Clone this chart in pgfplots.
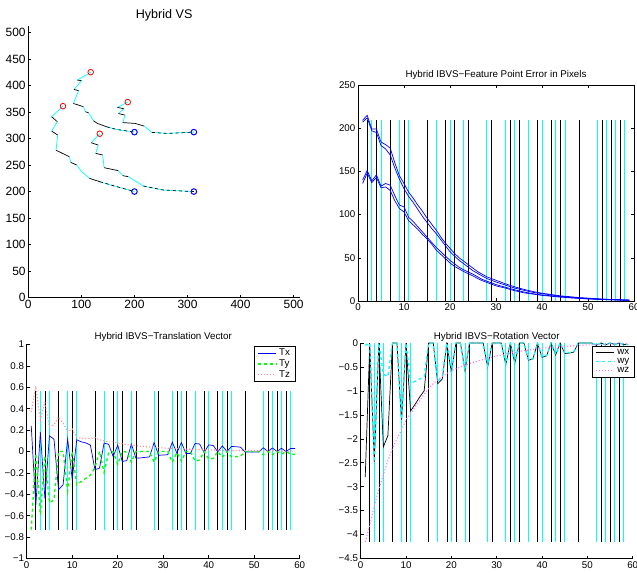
\documentclass[border=0pt]{standalone}
\usepackage{pgfplots}
\pgfplotsset{compat=1.18}
\usepackage{fontspec}
\setmainfont{Liberation Sans}
\definecolor{mcyan}{rgb}{0,1,1}
\definecolor{tzc}{rgb}{1,0.55,0.55}
\definecolor{wzc}{rgb}{1,0.45,1}
\pgfplotsset{
  every axis/.append style={scale only axis, /pgf/number format/assume math mode=true,
    tick align=inside, major tick length=3bp, axis line style={line width=0.5bp},
    every tick/.style={black,line width=0.5bp}},
  mat/.style={
    tick label style={font=\fontsize{9.8}{11}\selectfont, inner sep=2.5bp},
    title style={font=\fontsize{9.8}{11}\selectfont, yshift=-4.5bp},
    xmin=0,xmax=60, xtick={0,10,...,60},
    legend image code/.code={\draw[##1] (0bp,0bp) -- (18bp,0bp);},
    legend style={font=\fontsize{9.8}{11}\selectfont, draw=black, line width=0.6bp,
      inner xsep=2.5bp, inner ysep=0.8bp, row sep=-1.5bp, legend cell align=left, fill=white,
      nodes={inner xsep=3bp}},
  },
  vb/.style={black, line width=0.6bp, forget plot},
  vc/.style={mcyan, line width=0.8bp, forget plot},
  tc/.style={mcyan, line width=0.7bp},
  tb/.style={black, line width=0.7bp},
}
\begin{document}
\begin{tikzpicture}
\useasboundingbox (0bp,0bp) rectangle (637bp,573bp);
% ---------------- Top-left: trajectories
\begin{axis}[at={(28.3bp,275.3bp)}, anchor=south west, width=271.7bp, height=271.7bp,
  xmin=0, xmax=512, ymin=0, ymax=512,
  axis x line*=bottom, axis y line*=left,
  xtick={0,100,...,500}, ytick={0,50,...,500},
  tick label style={font=\fontsize{12}{14}\selectfont, inner sep=2.5bp},
  title style={font=\fontsize{12.6}{14}\selectfont, yshift=-5bp},
  title={Hybrid VS}]
% trajectory 1
\addplot[tc] coordinates {(117.6,425) (92.5,410)};
\addplot[tb] coordinates {(92.5,410) (100.6,409)};
\addplot[tc] coordinates {(100.6,409) (86.2,392.5)};
\addplot[tb] coordinates {(86.2,392.5) (95,390)};
\addplot[tc] coordinates {(95,390) (90,378.7) (85,366)};
\addplot[tb] coordinates {(85,366) (103.8,360)};
\addplot[tc] coordinates {(103.8,360) (107.6,350.4)};
\addplot[tb] coordinates {(107.6,350.4) (113.8,348.5)};
\addplot[tc] coordinates {(113.8,348.5) (122.7,333.5)};
\addplot[tb] coordinates {(122.7,333.5) (130.2,328.4) (147.8,322)};
\addplot[tc] coordinates {(147.8,322) (166.7,317) (200,312)};
\addplot[tb, dashed] coordinates {(147.8,322) (166.7,317) (200,312)};
% trajectory 2
\addplot[tc] coordinates {(65.4,361) (44,341)};
\addplot[tb] coordinates {(44,341) (54.7,331.6)};
\addplot[tc] coordinates {(54.7,331.6) (44,314)};
\addplot[tb] coordinates {(44,314) (55.4,306.5)};
\addplot[tc] coordinates {(55.4,306.5) (52.2,278)};
\addplot[tb] coordinates {(52.2,278) (77.4,265.6)};
\addplot[tc] coordinates {(77.4,265.6) (80,255)};
\addplot[tb] coordinates {(80,255) (91.2,250)};
\addplot[tc] coordinates {(91.2,250) (100.6,237.4) (115,225)};
\addplot[tb] coordinates {(115,225) (135,218.5)};
\addplot[tc] coordinates {(135,218.5) (160.4,211) (200,200)};
\addplot[tb, dashed] coordinates {(135,218.5) (160.4,211) (200,200)};
% trajectory 3
\addplot[tc] coordinates {(187.4,368.6) (168,358.6)};
\addplot[tb] coordinates {(168,358.6) (180.5,356)};
\addplot[tc] coordinates {(180.5,356) (169.8,347)};
\addplot[tb] coordinates {(169.8,347) (182.4,344)};
\addplot[tc] coordinates {(182.4,344) (178,330)};
\addplot[tb] coordinates {(178,330) (201.3,328.4) (218.3,323.4)};
\addplot[tc] coordinates {(218.3,323.4) (232.7,311.5)};
\addplot[tc] coordinates {(232.7,311.5) (261,309.6) (312,312)};
\addplot[tb, dashed] coordinates {(232.7,311.5) (261,309.6) (312,312)};
% trajectory 4
\addplot[tc] coordinates {(134.6,309) (118.3,292)};
\addplot[tb] coordinates {(118.3,292) (132,287.6)};
\addplot[tc] coordinates {(132,287.6) (127,272)};
\addplot[tb] coordinates {(127,272) (140.3,268.8)};
\addplot[tc] coordinates {(140.3,268.8) (142.8,245)};
\addplot[tb] coordinates {(142.8,245) (169.8,239.3)};
\addplot[tc] coordinates {(169.8,239.3) (178,230)};
\addplot[tb] coordinates {(178,230) (188.7,228)};
\addplot[tc] coordinates {(188.7,228) (217,210.4)};
\addplot[tc] coordinates {(217,210.4) (254.7,202.8) (312,200)};
\addplot[tb, dashed] coordinates {(217,210.4) (254.7,202.8) (312,200)};
% start / end markers
\addplot[only marks, mark=o, mark size=2.8bp, red, line width=0.8bp]
  coordinates {(117.6,425) (65.4,361) (187.4,368.6) (134.6,309)};
\addplot[only marks, mark=o, mark size=2.8bp, blue, line width=1bp]
  coordinates {(200,312) (312,312) (200,200) (312,200)};
\end{axis}
% ---------------- Top-right: feature point error
\begin{axis}[mat, at={(358bp,272bp)}, anchor=south west, width=276bp, height=216bp,
  ymin=0, ymax=250, ytick={0,50,...,250},
  title={Hybrid IBVS−Feature Point Error in Pixels}]
\pgfplotsinvokeforeach{2,4,7,10,15,19,21,24,29,33,35,39,42,44,48,53,55,57}{
  \addplot[vb] coordinates {(#1,0) (#1,210)};}
\pgfplotsinvokeforeach{3,5,9,11,17,20,23,28,32,34,37,40,43,45,52,54,56,58}{
  \addplot[vc] coordinates {(#1,0) (#1,210)};}
\addplot[blue, line width=0.7bp] coordinates {(1,209)(2,215)(3,199)(4,199)(5,184)(6,181)(7,177)(8,160)(9,145)(10,136)(11,126)(12,119)(13,111)(14,104)(15,96)(16,89)(17,82)(18,74)(19,67)(20,61)(21,55)(22,50)(23,46)(24,42)(25,38)(26,34)(27,31)(28,28)(29,26)(30,24)(32,20)(34,16.5)(36,13.5)(38,11)(40,9)(42,7.5)(44,6)(46,5)(48,4)(50,3.3)(52,2.6)(54,2)(56,1.6)(58,1.2)(59,1.1)};
\addplot[blue, line width=0.7bp] coordinates {(1,207)(2,212)(3,197)(4,195)(5,180)(6,176)(7,169)(8,154)(9,141)(10,130)(11,121)(12,114)(13,106)(14,98)(15,91)(16,84)(17,78)(18,71)(19,64)(20,57)(21,52)(22,47)(23,43)(24,39)(25,35)(26,32)(27,29)(28,26)(29,24)(30,22)(32,18.5)(34,15)(36,12.5)(38,10)(40,8.5)(42,7)(44,5.5)(46,4.5)(48,3.7)(50,3)(52,2.4)(54,1.9)(56,1.5)(58,1.1)(59,1)};
\addplot[blue, line width=0.7bp] coordinates {(1,140)(2,151)(3,139)(4,146)(5,133)(6,136)(7,134)(8,122)(9,111)(10,109)(11,97)(12,92)(13,86)(14,80)(15,74)(16,68)(17,62)(18,57)(19,52)(20,47)(21,43)(22,39)(23,36)(24,33.5)(25,31)(26,28)(27,25)(28,23)(29,21)(30,19)(32,16)(34,13)(36,10.5)(38,8.5)(40,7)(42,6)(44,5)(46,4)(48,3.2)(50,2.6)(52,2)(54,1.6)(56,1.3)(58,1)(59,0.9)};
\addplot[blue, line width=0.7bp] coordinates {(1,136)(2,148)(3,137)(4,143)(5,131)(6,132)(7,128)(8,116)(9,107)(10,103)(11,93)(12,88)(13,83)(14,77)(15,72)(16,66)(17,59)(18,54)(19,49)(20,44)(21,40)(22,37)(23,34)(24,31.5)(25,29)(26,26)(27,23.5)(28,21.5)(29,19.5)(30,17.5)(32,15)(34,12)(36,9.5)(38,8)(40,6.5)(42,5.5)(44,4.5)(46,3.7)(48,3)(50,2.4)(52,1.9)(54,1.5)(56,1.2)(58,0.9)(59,0.8)};
\end{axis}
% ---------------- Bottom-left: translation vector
\begin{axis}[mat, at={(26.7bp,14.5bp)}, anchor=south west, width=273bp, height=214bp,
  axis x line*=bottom, axis y line*=left,
  ymin=-1, ymax=1, ytick={-1,-0.8,...,1.01},
  yticklabels={−1,−0.8,−0.6,−0.4,−0.2,0,0.2,0.4,0.6,0.8,1},
  title style={yshift=-2bp},
  title={Hybrid IBVS−Translation Vector},
  legend style={at={(0.986,0.993)}, anchor=north east}]
\pgfplotsinvokeforeach{2,4,7,10,15,19,21,24,29,33,35,39,42,44,48,53,55,57}{
  \addplot[vb] coordinates {(#1,-0.735) (#1,0.565)};}
\pgfplotsinvokeforeach{3,5,9,11,17,20,23,28,32,34,37,40,43,45,52,54,56,58}{
  \addplot[vc] coordinates {(#1,-0.735) (#1,0.565)};}
\addplot[blue, line width=0.7bp] coordinates {(1,0.24)(2,-0.51)(3,0.18)(4,-0.44)(5,0.146)(6,0.115)(7,-0.357)(8,-0.31)(9,0.118)(10,-0.26)(11,0.11)(12,0.09)(13,0.08)(14,0.06)(15,-0.17)(16,-0.155)(17,0.078)(18,0.068)(19,-0.047)(20,0.06)(21,-0.093)(22,-0.085)(23,0.07)(24,-0.062)(25,-0.06)(26,-0.055)(27,-0.05)(28,0.084)(29,-0.035)(30,-0.033)(31,-0.03)(32,0.087)(33,-0.015)(34,0.084)(35,-0.02)(36,-0.018)(37,0.075)(38,0.07)(39,-0.01)(40,0.062)(41,0.056)(42,-0.003)(43,0.053)(44,0.0)(45,0.047)(46,0.045)(47,0.04)(48,-0.005)(49,-0.005)(50,-0.005)(51,-0.005)(52,0.035)(53,0.0)(54,0.033)(55,0.0)(56,0.03)(57,0.0)(58,0.028)(59,0.028)};
\addlegendentry{Tx}
\addplot[green, dashed, line width=1.3bp] coordinates {(1,-0.73)(2,-0.02)(3,-0.59)(4,-0.04)(5,-0.48)(6,-0.45)(7,0.0)(8,0.0)(9,-0.37)(10,0.0)(11,-0.31)(12,-0.28)(13,-0.25)(14,-0.22)(15,-0.15)(16,0.0)(17,-0.195)(18,-0.015)(19,0.0)(20,-0.12)(21,0.0)(22,-0.005)(23,-0.1)(24,0.0)(25,0)(26,0)(27,0)(28,-0.1)(29,0.0)(30,0)(31,0)(32,-0.1)(33,-0.01)(34,-0.09)(35,0.0)(36,0)(37,-0.09)(38,-0.08)(39,0.0)(40,-0.07)(41,-0.065)(42,0.0)(43,-0.055)(44,0.0)(45,-0.05)(46,-0.048)(47,-0.045)(48,0.0)(49,0)(50,0)(51,0)(52,-0.03)(53,0.0)(54,-0.03)(55,0.0)(56,-0.025)(57,0.0)(58,-0.025)(59,-0.025)};
\addlegendentry{Ty}
\addplot[tzc, dotted, line width=1.1bp] coordinates {(1,0.37)(2,0.61)(3,0.3)(4,0.46)(5,0.23)(6,0.25)(7,0.32)(8,0.27)(9,0.18)(10,0.21)(11,0.13)(12,0.125)(13,0.12)(14,0.12)(15,0.13)(16,0.11)(17,0.10)(18,0.09)(19,0.09)(20,0.08)(22,0.065)(24,0.055)(26,0.045)(28,0.04)(30,0.033)(35,0.022)(40,0.015)(45,0.01)(50,0.007)(55,0.005)(59,0.004)};
\addlegendentry{Tz}
\end{axis}
% ---------------- Bottom-right: rotation vector
\begin{axis}[mat, at={(360.7bp,14.5bp)}, anchor=south west, width=272bp, height=215.5bp,
  axis x line*=bottom, axis y line*=left,
  ymin=-4.5, ymax=0, ytick={-4.5,-4,...,0.01},
  yticklabels={−4.5,−4,−3.5,−3,−2.5,−2,−1.5,−1,−0.5,0},
  title style={yshift=-3.5bp},
  title={Hybrid IBVS−Rotation Vector},
  legend style={at={(1.0085,0.986)}, anchor=north east}]
\pgfplotsinvokeforeach{2,4,7,10,15,19,21,24,29,33,35,39,42,44,48,53,55,57}{
  \addplot[vb] coordinates {(#1,-4.15) (#1,0)};}
\pgfplotsinvokeforeach{3,5,9,11,17,20,23,28,32,34,37,40,43,45,52,54,56,58}{
  \addplot[vc] coordinates {(#1,-4.15) (#1,0)};}
\addplot[black, line width=0.7bp] coordinates {(1,-2.8)(2,-0.03)(3,-2.48)(4,0.0)(5,-2.17)(6,-1.93)(7,0)(8,0)(9,-1.65)(10,0)(11,-1.42)(12,-1.28)(13,-1.13)(14,-1.0)(15,0)(16,0)(17,-0.85)(18,-0.75)(19,0)(20,-0.62)(21,0)(22,0)(23,-0.58)(24,0)(25,0)(26,0)(27,0)(28,-0.5)(29,0)(30,0)(31,0)(32,-0.45)(33,0)(34,-0.42)(35,0)(36,0)(37,-0.36)(38,-0.33)(39,0)(40,-0.3)(41,-0.27)(42,0)(43,-0.25)(44,0)(45,-0.22)(46,-0.21)(47,-0.19)(48,0)(49,0)(50,0)(51,0)(52,-0.05)(53,0)(54,-0.04)(55,0)(56,-0.03)(57,0)(58,-0.03)(59,-0.03)};
\addlegendentry{wx}
\addplot[mcyan, dashed, line width=1.3bp] coordinates {(1,-0.05)(2,0)(3,-2.48)(4,0)(5,-0.65)(6,-0.7)(7,0)(8,0)(9,-1.65)(10,0)(11,-0.85)(12,-0.8)(13,-0.75)(14,-0.7)(15,0)(16,0)(17,-0.8)(18,-0.7)(19,0)(20,-0.65)(21,0)(22,0)(23,-0.57)(24,0)(25,0)(26,0)(27,0)(28,-0.48)(29,0)(30,0)(31,0)(32,-0.44)(33,0)(34,-0.41)(35,0)(36,0)(37,-0.35)(38,-0.33)(39,0)(40,-0.29)(41,-0.26)(42,0)(43,-0.24)(44,0)(45,-0.21)(46,-0.2)(47,-0.18)(48,0)(49,0)(50,0)(51,0)(52,-0.05)(53,0)(54,-0.04)(55,0)(56,-0.03)(57,0)(58,-0.03)(59,-0.03)};
\addlegendentry{wy}
\addplot[wzc, dotted, line width=1.1bp] coordinates {(1,-4.15)(2,-3.8)(3,-3.4)(4,-3.05)(5,-2.75)(6,-2.45)(7,-2.2)(8,-2.0)(9,-1.82)(10,-1.6)(11,-1.48)(12,-1.33)(13,-1.2)(14,-1.07)(15,-0.95)(16,-0.85)(17,-0.77)(18,-0.7)(19,-0.64)(20,-0.58)(22,-0.5)(24,-0.43)(26,-0.37)(28,-0.32)(30,-0.27)(33,-0.21)(36,-0.16)(40,-0.11)(45,-0.07)(50,-0.04)(55,-0.02)(59,-0.015)};
\addlegendentry{wz}
\end{axis}
\end{tikzpicture}
\end{document}
